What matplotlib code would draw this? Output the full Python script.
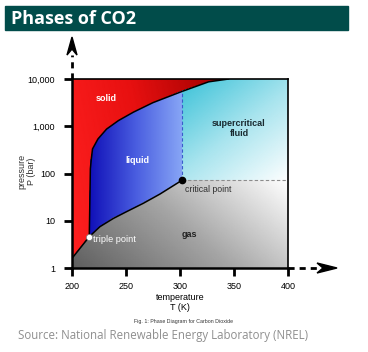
import numpy as np
import matplotlib
matplotlib.use('Agg')
import matplotlib.pyplot as plt
from matplotlib.colors import LinearSegmentedColormap
from matplotlib.patches import Polygon, Rectangle
from matplotlib.ticker import NullLocator

# ---- data ----
melt_T = [216.0, 216.7, 217.0, 217.9, 219.0, 224.0, 232.0, 243.0, 257.0, 275.0, 302.2, 326.5, 345.0]
melt_P = [4.6, 44.8, 126, 204, 331, 537, 871, 1318, 1995, 3162, 5495, 8710, 10000]
vap_T = [216.0, 225.9, 238.3, 250.6, 266.0, 281.5, 302.2]
vap_P = [4.6, 7.5, 11.2, 15.6, 23.4, 36.8, 72.8]
subl_T = [200.0, 216.0]
subl_P = [1.6, 4.6]
triple_T, triple_P = 216.0, 4.6
crit_T, crit_P = 302.2, 72.8
x_ticks = [200, 250, 300, 350, 400]
y_ticks = [1, 10, 100, 1000, 10000]
y_ticklabels = ['1', '10', '100', '1,000', '10,000']
phase_names = ['solid', 'liquid', 'supercritical\nfluid', 'gas']
phase_T = [231.5, 260.2, 354.6, 308.3]
phase_P = [3950, 193, 900, 5.2]

TL = 'Liberation Sans'

fig = plt.figure(figsize=(3.68, 3.52), dpi=100)
fig.patch.set_facecolor('white')
ax = fig.add_axes([72/368, 84/352, 216/368, 189/352])
ax.set_yscale('log')
ax.set_xlim(200, 400)
ax.set_ylim(1, 10000)

# grid for gradients
Tg = np.linspace(200, 400, 300)
Pg = np.logspace(0, 4, 300)
TT, PP = np.meshgrid(Tg, Pg)
u = (TT - 200) / 200.0
v = np.log10(PP) / 4.0

melt_Pc = melt_P[melt_T.index(crit_T)]
mlow = [(t, p) for t, p in zip(melt_T, melt_P) if t <= crit_T]
mhigh = [(t, p) for t, p in zip(melt_T, melt_P) if t > crit_T]

solid_poly = [(200, 10000)] + list(zip(subl_T, subl_P)) + list(zip(melt_T, melt_P))
liquid_poly = list(zip(vap_T, vap_P)) + [(crit_T, melt_Pc)] + mlow[::-1]
super_poly = [(crit_T, crit_P), (crit_T, melt_Pc)] + mhigh + [(400, 10000), (400, crit_P)]
gas_poly = [(200, 1)] + list(zip(subl_T, subl_P)) + list(zip(vap_T, vap_P)) + [(400, crit_P), (400, 1)]

def region(poly, field, colors):
    cmap = LinearSegmentedColormap.from_list('c', colors)
    mesh = ax.pcolormesh(TT, PP, np.clip(field, 0, 1), cmap=cmap, vmin=0, vmax=1,
                         shading='gouraud', zorder=1)
    patch = Polygon(poly, closed=True, transform=ax.transData)
    mesh.set_clip_path(patch)

region(solid_poly, 0.8 * u / 0.7 + 0.2 * v, ['#ff2020', '#e81010', '#a00000'])
region(liquid_poly, (u - 0.08) / 0.43, ['#1010b8', '#4a5ee0', '#88a6f6'])
region(super_poly, 0.55 * (v - 0.46) / 0.54 + 0.45 * (1 - (u - 0.51) / 0.49),
       ['#ffffff', '#a8e4ee', '#3cc2d8'])
region(gas_poly, 0.68 * u + 0.32 * v / 0.46, ['#5e5e5e', '#a4a4a4', '#ffffff'])

# boundary lines
ax.plot(melt_T, melt_P, color='black', lw=1.1, zorder=3, solid_joinstyle='round')
ax.plot(vap_T, vap_P, color='black', lw=1.1, zorder=3, solid_joinstyle='round')
ax.plot(subl_T, subl_P, color='black', lw=1.1, zorder=3)
ax.plot([crit_T, crit_T], [crit_P, melt_Pc], ls=(0, (3, 2)), color='#3a5ccc', lw=0.8, zorder=3)
ax.plot([crit_T, 400], [crit_P, crit_P], ls=(0, (3, 2)), color='#8c8c8c', lw=0.8, zorder=3)
ax.plot([crit_T], [crit_P], 'o', color='black', ms=4.5, zorder=4)
ax.plot([triple_T], [triple_P], 'o', color='white', mec='#777777', mew=0.5, ms=4.5, zorder=4)

# labels
ax.text(phase_T[0], phase_P[0], phase_names[0], color='white', fontsize=6.5,
        fontweight='bold', family=TL, ha='center', va='center', zorder=5)
ax.text(phase_T[1], phase_P[1], phase_names[1], color='white', fontsize=6.5,
        fontweight='bold', family=TL, ha='center', va='center', zorder=5)
ax.text(phase_T[2], phase_P[2], phase_names[2], color='#1a2a30', fontsize=6.5,
        fontweight='bold', family=TL, ha='center', va='center', linespacing=1.15, zorder=5)
ax.text(phase_T[3], phase_P[3], phase_names[3], color='#222222', fontsize=6.5,
        fontweight='bold', family=TL, ha='center', va='center', zorder=5)
ax.text(crit_T + 2, crit_P * 0.62, 'critical point', color='#303030', fontsize=6.3,
        family=TL, ha='left', va='center', zorder=5)
ax.text(triple_T + 3.5, triple_P * 0.88, 'triple point', color='white', fontsize=6.6,
        family=TL, ha='left', va='center', zorder=5)

# axes styling
for s in ['left', 'bottom']:
    ax.spines[s].set_linewidth(1.8)
for s in ['top', 'right']:
    ax.spines[s].set_linewidth(1.2)
ax.set_xticks(x_ticks)
ax.set_xticklabels([str(t) for t in x_ticks], family=TL)
ax.set_yticks(y_ticks)
ax.set_yticklabels(y_ticklabels, family=TL)
ax.yaxis.set_minor_locator(NullLocator())
ax.tick_params(direction='out', length=5.8, width=2.0, labelsize=6.5, pad=4.5)
ax.tick_params(axis='y', pad=6.5)
ax.set_xlabel('temperature\nT (K)', fontsize=6.5, family=TL, linespacing=1.05, labelpad=1.5)
ax.set_ylabel('pressure\nP (bar)', fontsize=6.5, family=TL, linespacing=1.1, color='#333333')
ax.yaxis.set_label_coords(-0.168, 0.51)

# dashed arrows beyond axes
ax.plot([0, 0], [1.0, 1.125], transform=ax.transAxes, clip_on=False, color='black',
        lw=2, ls=(0, (2.2, 1.8)), zorder=5)
ax.add_patch(Polygon([(0, 1.222), (-5/216, 1.222 - 18/189), (0, 1.222 - 12/189),
                      (5/216, 1.222 - 18/189)], closed=True, transform=ax.transAxes,
                     clip_on=False, color='black', zorder=5))
ax.plot([1.0, 1.16], [0, 0], transform=ax.transAxes, clip_on=False, color='black',
        lw=2, ls=(0, (2.2, 1.8)), zorder=5)
ax.add_patch(Polygon([(1.227, 0), (1.227 - 20/216, 5/189), (1.227 - 14/216, 0),
                      (1.227 - 20/216, -5/189)], closed=True, transform=ax.transAxes,
                     clip_on=False, color='black', zorder=5))

# caption, title banner, source
fig.text(183/368, 1 - 321/352, 'Fig. 1: Phase Diagram for Carbon Dioxide', fontsize=3.8,
         family=TL, color='#333333', ha='center', va='center')
fig.add_artist(Rectangle((5/368, 1 - 30/352), 343/368, 24/352, transform=fig.transFigure,
                         color='#014c4a', zorder=0))
fig.text(11/368, 1 - 18.5/352, 'Phases of CO2', fontsize=13, fontweight='bold',
         family='Open Sans', color='white', ha='left', va='center')
fig.text(18/368, 1 - 336/352, 'Source: National Renewable Energy Laboratory (NREL)',
         fontsize=8.3, family='Open Sans', color='#8f8f8f', ha='left', va='center')

fig.savefig('out.png', dpi=100, facecolor='white')
